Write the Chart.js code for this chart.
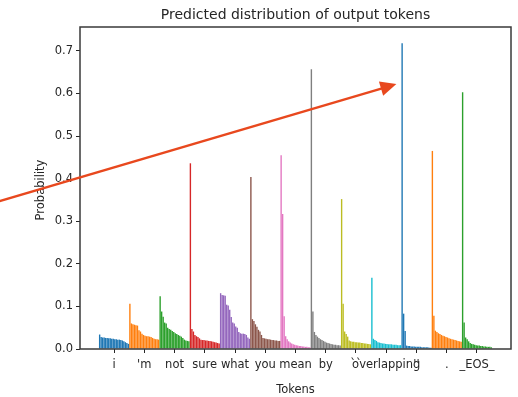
<!DOCTYPE html>
<html>
<head>
<meta charset="utf-8">
<script src="https://cdn.jsdelivr.net/npm/chart.js@4/dist/chart.umd.min.js"></script>
<style>
  html, body { margin: 0; padding: 0; background: #fff; }
  #wrap { width: 518px; height: 397px; }
</style>
</head>
<body>
<div id="wrap"><canvas id="c" width="518" height="397"></canvas></div>
<script>
// ---- data ----
const tokens = ["i", "'m", "not", "sure", "what", "you", "mean", "by", "``", "overlapping", "''", ".", "_EOS_"];
const yTicks = [0.0, 0.1, 0.2, 0.3, 0.4, 0.5, 0.6, 0.7];

const p_i     = [0.034,0.028,0.027,0.027,0.026,0.026,0.025,0.025,0.024,0.024,0.023,0.023,0.022,0.022,0.021,0.020,0.018,0.016,0.014,0.012];
const p_m     = [0.106,0.060,0.058,0.057,0.056,0.055,0.044,0.041,0.036,0.033,0.031,0.030,0.030,0.029,0.028,0.026,0.024,0.023,0.023,0.022];
const p_not   = [0.124,0.088,0.076,0.062,0.060,0.050,0.047,0.045,0.042,0.040,0.037,0.035,0.033,0.031,0.029,0.026,0.022,0.020,0.019,0.018];
const p_sure  = [0.436,0.047,0.041,0.033,0.030,0.028,0.025,0.022,0.021,0.021,0.020,0.020,0.019,0.019,0.018,0.017,0.016,0.015,0.014,0.013];
const p_what  = [0.131,0.127,0.126,0.125,0.104,0.102,0.092,0.075,0.062,0.060,0.053,0.050,0.040,0.037,0.036,0.036,0.035,0.033,0.027,0.024];
const p_you   = [0.404,0.070,0.066,0.058,0.052,0.045,0.041,0.033,0.026,0.025,0.024,0.023,0.023,0.022,0.021,0.021,0.020,0.020,0.019,0.019];
const p_mean  = [0.455,0.317,0.077,0.030,0.023,0.018,0.015,0.013,0.011,0.010,0.009,0.008,0.007,0.007,0.006,0.006,0.005,0.005,0.004,0.004];
const p_by    = [0.657,0.088,0.040,0.033,0.029,0.026,0.023,0.021,0.019,0.017,0.015,0.014,0.013,0.012,0.011,0.010,0.010,0.009,0.009,0.008];
const p_btick = [0.352,0.106,0.041,0.035,0.029,0.020,0.018,0.017,0.017,0.016,0.016,0.015,0.015,0.014,0.014,0.013,0.013,0.012,0.012,0.011];
const p_over  = [0.167,0.024,0.021,0.019,0.016,0.015,0.014,0.013,0.013,0.012,0.012,0.011,0.011,0.011,0.010,0.010,0.010,0.009,0.009,0.009];
const p_quote = [0.718,0.083,0.042,0.008,0.007,0.007,0.006,0.006,0.006,0.005,0.005,0.005,0.005,0.004,0.004,0.004,0.004,0.004,0.003,0.003];
const p_dot   = [0.465,0.078,0.043,0.040,0.037,0.035,0.033,0.031,0.030,0.028,0.027,0.025,0.024,0.023,0.022,0.021,0.020,0.019,0.018,0.017];
const p_eos   = [0.603,0.062,0.027,0.023,0.018,0.014,0.012,0.011,0.010,0.009,0.008,0.008,0.007,0.007,0.006,0.006,0.005,0.005,0.005,0.004];

const groups = [p_i, p_m, p_not, p_sure, p_what, p_you, p_mean, p_by, p_btick, p_over, p_quote, p_dot, p_eos];

// annotation arrow, in data coordinates
const arrowFrom = { x: -66.4, y: 0.347 };
const arrowTo   = { x: 196.2, y: 0.622 };

// ---- styling ----
const palette = ['#1f77b4','#ff7f0e','#2ca02c','#d62728','#9467bd','#8c564b','#e377c2','#7f7f7f','#bcbd22','#17becf'];
const N = 20;
const FONT = "'DejaVu Sans', sans-serif";
const totalBars = groups.length * N;
const margin = (totalBars - 1 + 0.8) * 0.05;

const datasets = groups.map((vals, g) => ({
  label: tokens[g],
  data: vals.map((v, j) => ({ x: g * N + j, y: v })),
  backgroundColor: palette[g % palette.length],
  borderWidth: 0,
  grouped: false,
  barPercentage: 0.92,
  categoryPercentage: 1.0
}));

const decor = {
  id: 'decor',
  afterDatasetsDraw(chart) {
    const { ctx, chartArea: a } = chart;
    ctx.save();
    ctx.strokeStyle = '#3a3a3a';
    ctx.lineWidth = 1.5;
    ctx.strokeRect(a.left, a.top, a.right - a.left, a.bottom - a.top);
    ctx.restore();
  },
  afterDraw(chart) {
    const { ctx, chartArea: a, scales } = chart;
    ctx.save();
    ctx.fillStyle = '#262626';
    ctx.textAlign = 'center';
    ctx.font = "14px " + FONT;
    ctx.textBaseline = 'alphabetic';
    ctx.fillText('Predicted distribution of output tokens', (a.left + a.right) / 2, 19);
    ctx.font = "11.5px " + FONT;
    ctx.textBaseline = 'middle';
    ctx.fillText('Tokens', (a.left + a.right) / 2, 390);
    ctx.translate(41, (a.top + a.bottom) / 2 + 2);
    ctx.rotate(-Math.PI / 2);
    ctx.fillText('Probability', 0, 0);
    ctx.restore();

    // arrow
    const x0 = scales.x.getPixelForValue(arrowFrom.x), y0 = scales.y.getPixelForValue(arrowFrom.y);
    const x1 = scales.x.getPixelForValue(arrowTo.x),   y1 = scales.y.getPixelForValue(arrowTo.y);
    const ang = Math.atan2(y1 - y0, x1 - x0);
    const hl = 16, hw = 7.5;
    const bx = x1 - hl * Math.cos(ang), by = y1 - hl * Math.sin(ang);
    ctx.save();
    ctx.strokeStyle = '#e8481e';
    ctx.fillStyle = '#e8481e';
    ctx.lineWidth = 2.4;
    ctx.beginPath();
    ctx.moveTo(x0, y0);
    ctx.lineTo(bx + 2 * Math.cos(ang), by + 2 * Math.sin(ang));
    ctx.stroke();
    ctx.beginPath();
    ctx.moveTo(x1, y1);
    ctx.lineTo(bx + hw * Math.sin(ang), by - hw * Math.cos(ang));
    ctx.lineTo(bx - hw * Math.sin(ang), by + hw * Math.cos(ang));
    ctx.closePath();
    ctx.fill();
    ctx.restore();
  }
};

new Chart(document.getElementById('c'), {
  type: 'bar',
  data: { datasets },
  options: {
    responsive: false,
    animation: false,
    layout: { padding: { top: 27, right: 7, left: 0, bottom: 0 } },
    plugins: { legend: { display: false }, title: { display: false }, tooltip: { enabled: false } },
    scales: {
      x: {
        type: 'linear',
        min: -margin,
        max: totalBars - 1 + margin,
        offset: false,
        afterBuildTicks: s => { s.ticks = tokens.map((t, g) => ({ value: g * N + (N - 1) / 2 })); },
        afterFit: s => { s.height = 48; },
        ticks: {
          autoSkip: false, maxRotation: 0, minRotation: 0, padding: 5,
          color: '#262626', font: { family: FONT, size: 11.5 },
          callback: (v, i) => tokens[i]
        },
        grid: { display: true, offset: false, drawOnChartArea: false, drawTicks: true, tickLength: 4, color: '#262626', lineWidth: 1 },
        border: { display: false }
      },
      y: {
        type: 'linear',
        min: 0,
        max: 0.756,
        afterBuildTicks: s => { s.ticks = yTicks.map(v => ({ value: v })); },
        afterFit: s => { s.width = 80; },
        ticks: {
          padding: 3, color: '#262626', font: { family: FONT, size: 11.5 },
          callback: v => Number(v).toFixed(1)
        },
        grid: { display: true, offset: false, drawOnChartArea: false, drawTicks: true, tickLength: 4, color: '#262626', lineWidth: 1 },
        border: { display: false }
      }
    }
  },
  plugins: [decor]
});
</script>
</body>
</html>
